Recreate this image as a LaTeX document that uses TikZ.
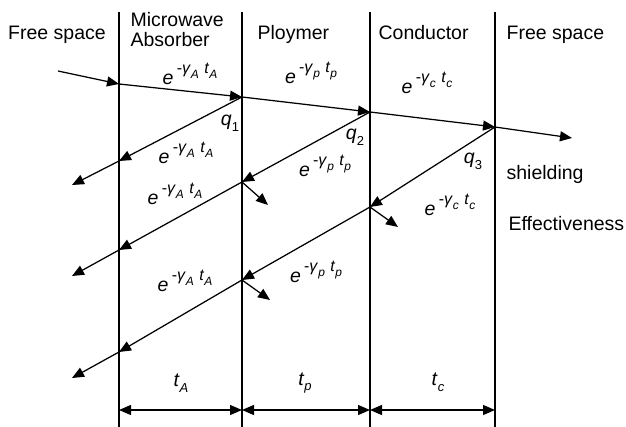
\documentclass[tikz,border=0pt]{standalone}
\usepackage{fontspec}
\setmainfont{Liberation Sans}
\usetikzlibrary{arrows.meta}

% attenuation factor e^{-gamma t} set in text italics
\newcommand{\expterm}[1]{\textit{e}\,\raisebox{0.6em}{\fontsize{16}{16}\selectfont
  -\textit{γ}\raisebox{-0.3em}{\fontsize{12}{12}\selectfont\textit{#1}}\,\,%
  \textit{t}\raisebox{-0.3em}{\fontsize{12}{12}\selectfont\textit{#1}}}}
\newcommand{\thick}[1]{\textit{t}\raisebox{-0.3em}{\fontsize{13}{13}\selectfont\textit{#1}}}
\newcommand{\qlabel}[1]{\textit{q}\raisebox{-0.3em}{\fontsize{13}{13}\selectfont #1}}

\begin{document}
\begin{tikzpicture}[x=1pt,y=-1pt,line width=1.25pt,
  every node/.style={font=\fontsize{19.5}{22}\selectfont,inner sep=0pt},
  ray/.style={-{Triangle[length=12pt,width=10pt]}},
  dim/.style={{Triangle[length=12pt,width=10pt]}-{Triangle[length=12pt,width=10pt]}}]
\useasboundingbox (0,0) rectangle (626,427);

% boundaries
\draw (119,12) -- (119,427);
\draw (242,12) -- (242,427);
\draw (370,12) -- (370,427);
\draw (495,12) -- (495,427);

% region titles
\node[anchor=base] (fs1) at (57,40) {Free space};
\node[anchor=base west] (mw) at (130,27) {Microwave};
\node[anchor=base west] (ab) at (130,47) {Absorber};
\node[anchor=base west] (pl) at (257,40) {Ploymer};
\node[anchor=base west] (co) at (378,40) {Conductor};
\node[anchor=base west] (fs2) at (506,40) {Free space};

% points on the boundaries
\coordinate (in) at (58,71);
\coordinate (a1) at (119,84);
\coordinate (p1) at (242,97);
\coordinate (c1) at (370,112);
\coordinate (f1) at (495,127);
\coordinate (out) at (572,138);
\coordinate (a2) at (119,161);
\coordinate (l1) at (72,185);
\coordinate (p2) at (242,182);
\coordinate (a3) at (119,250);
\coordinate (l2) at (72,276);
\coordinate (c2) at (370,207);
\coordinate (p3) at (242,280);
\coordinate (a4) at (119,352);
\coordinate (l3) at (72,378);
\coordinate (s1) at (268,205);
\coordinate (s2) at (398,227);
\coordinate (s3) at (270,300);

% incident wave
\draw[ray] (in) -- (a1);
\draw[ray] (a1) -- (p1);
\draw[ray] (p1) -- (c1);
\draw[ray] (c1) -- (f1);
\draw[ray] (f1) -- (out);

% reflected waves
\draw[ray] (p1) -- (a2);
\draw[ray] (a2) -- (l1);
\draw[ray] (c1) -- (p2);
\draw[ray] (p2) -- (a3);
\draw[ray] (a3) -- (l2);
\draw[ray] (f1) -- (c2);
\draw[ray] (c2) -- (p3);
\draw[ray] (p3) -- (a4);
\draw[ray] (a4) -- (l3);
\draw[ray] (p2) -- (s1);
\draw[ray] (c2) -- (s2);
\draw[ray] (p3) -- (s3);

% attenuation labels
\node (e1) at (190,74) {\expterm{A}};
\node (e2) at (311,73) {\expterm{p}};
\node (e3) at (427,83) {\expterm{c}};
\node (e4) at (186,153) {\expterm{A}};
\node (e5) at (325,166) {\expterm{p}};
\node (e6) at (175,194) {\expterm{A}};
\node (e7) at (450,205) {\expterm{c}};
\node (e8) at (316,272) {\expterm{p}};
\node (e9) at (185,281) {\expterm{A}};

\node (q1) at (230,123) {\qlabel{1}};
\node (q2) at (355,137) {\qlabel{2}};
\node (q3) at (473,161) {\qlabel{3}};

\node[anchor=base west] (sh) at (506,180) {shielding};
\node[anchor=base west] (ef) at (508,231) {Effectiveness};

% thicknesses
\node (tA) at (181,383) {\thick{A}};
\node (tp) at (305,383) {\thick{p}};
\node (tc) at (438,382) {\thick{c}};
\draw[dim] (119,410) -- (242,410);
\draw[dim] (242,410) -- (370,410);
\draw[dim] (370,410) -- (495,410);
\end{tikzpicture}
\end{document}
